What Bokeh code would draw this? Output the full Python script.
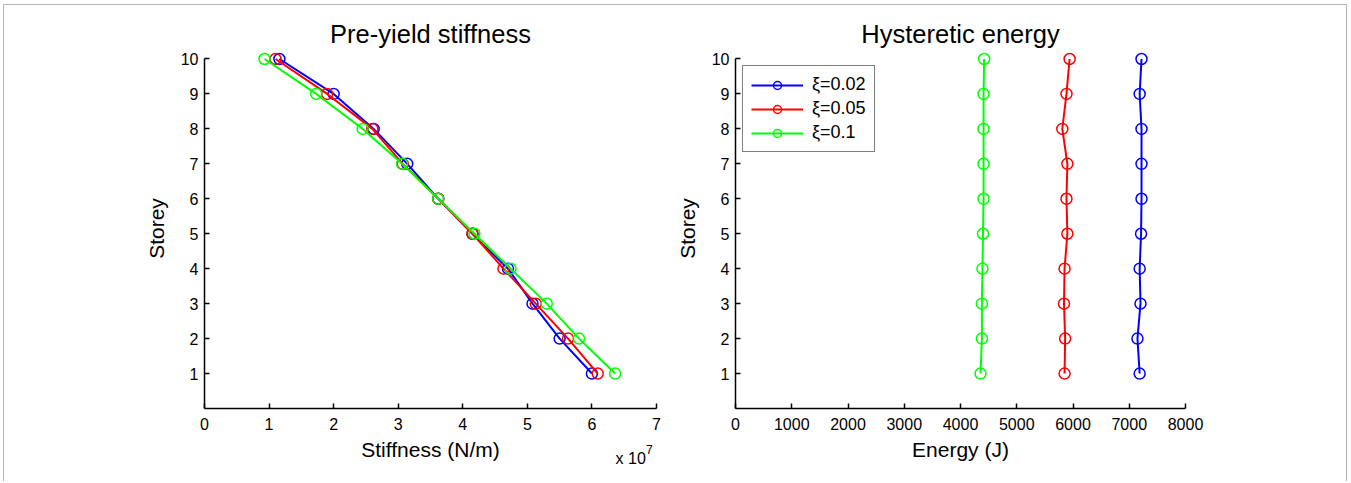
from bokeh.plotting import figure
from bokeh.layouts import row
from bokeh.models import Range1d, FixedTicker, LinearAxis, Legend, LegendItem
from bokeh.embed import file_html
from bokeh.resources import INLINE

storey = [1, 2, 3, 4, 5, 6, 7, 8, 9, 10]

# Stiffness (x 1e7 N/m)
stiff_002 = [6.00, 5.50, 5.08, 4.70, 4.15, 3.62, 3.14, 2.62, 2.00, 1.16]
stiff_005 = [6.09, 5.63, 5.13, 4.63, 4.15, 3.62, 3.07, 2.60, 1.90, 1.10]
stiff_010 = [6.36, 5.80, 5.30, 4.74, 4.18, 3.62, 3.06, 2.45, 1.73, 0.93]

# Hysteretic energy (J)
energy_002 = [7185, 7146, 7200, 7185, 7210, 7218, 7218, 7218, 7185, 7218]
energy_005 = [5850, 5860, 5840, 5850, 5900, 5884, 5900, 5810, 5884, 5940]
energy_010 = [4356, 4380, 4380, 4390, 4400, 4410, 4410, 4410, 4410, 4420]

labels = ["\u03be=0.02", "\u03be=0.05", "\u03be=0.1"]
colors = ["#0000ff", "#ff0000", "#00ff00"]
scale_text = "x 10"
scale_exp = "7"

FONT = "Liberation Sans"


def style(p, xticks, yticks, xbounds):
    p.xgrid.visible = False
    p.ygrid.visible = False
    p.outline_line_color = None
    p.title.text_font = FONT
    p.title.text_font_size = "25.5px"
    p.title.text_font_style = "normal"
    p.title.align = "center"
    p.title.text_color = "black"
    p.title.standoff = 2
    for ax in (p.xaxis[0], p.yaxis[0]):
        ax.axis_line_color = "black"
        ax.axis_line_width = 1.5
        ax.major_tick_line_color = "black"
        ax.major_tick_line_width = 1.5
        ax.major_tick_in = 5
        ax.major_tick_out = 0
        ax.minor_tick_line_color = None
        ax.major_label_text_font = FONT
        ax.major_label_text_font_size = "16px"
        ax.major_label_text_color = "black"
        ax.axis_label_text_font = FONT
        ax.axis_label_text_font_size = "21px"
        ax.axis_label_text_font_style = "normal"
        ax.axis_label_text_color = "black"
        ax.major_label_standoff = 6
    p.xaxis[0].major_label_standoff = 9
    p.xaxis[0].ticker = FixedTicker(ticks=xticks)
    p.yaxis[0].ticker = FixedTicker(ticks=yticks)
    p.yaxis[0].bounds = (0, 10)
    p.xaxis[0].bounds = xbounds
    p.xaxis[0].axis_label_standoff = 5
    p.yaxis[0].axis_label_standoff = 10


def text_axis(tick, text, size, standoff):
    ax = LinearAxis(ticker=FixedTicker(ticks=[tick]), major_label_overrides={tick: text},
                    axis_line_color=None, major_tick_line_color=None, minor_tick_line_color=None,
                    major_tick_in=0, major_tick_out=0, major_label_standoff=standoff,
                    major_label_text_font=FONT, major_label_text_font_size=size,
                    major_label_text_color="black")
    return ax


p1 = figure(width=662, height=476, output_backend="svg", toolbar_location=None,
            x_range=Range1d(0, 7), y_range=Range1d(0, 10.3),
            title="Pre-yield stiffness", x_axis_label="Stiffness (N/m)", y_axis_label="Storey",
            min_border_left=200, min_border_right=10, min_border_top=43, min_border_bottom=73)
style(p1, [0, 1, 2, 3, 4, 5, 6, 7], storey, (0, 7))
for xs, c in zip([stiff_002, stiff_005, stiff_010], colors):
    p1.line(xs, storey, line_color=c, line_width=2)
    p1.scatter(xs, storey, marker="circle", size=11, line_color=c, line_width=1.5, fill_color=None)

p1.add_layout(text_axis(6.60, scale_text, "16px", -14), "below")
p1.add_layout(text_axis(6.89, scale_exp, "12px", -25), "below")

p2 = figure(width=680, height=476, output_backend="svg", toolbar_location=None,
            x_range=Range1d(0, 8000), y_range=Range1d(0, 10.3),
            title="Hysteretic energy", x_axis_label="Energy (J)", y_axis_label="Storey",
            min_border_left=69, min_border_right=161, min_border_top=43, min_border_bottom=73)
style(p2, [0, 1000, 2000, 3000, 4000, 5000, 6000, 7000, 8000], storey, (0, 8000))
items = []
for xs, c, lab in zip([energy_002, energy_005, energy_010], colors, labels):
    r1 = p2.line(xs, storey, line_color=c, line_width=2)
    r2 = p2.scatter(xs, storey, marker="circle", size=11, line_color=c, line_width=1.5, fill_color=None)
    items.append(LegendItem(label=lab, renderers=[r1, r2]))

legend = Legend(items=items, location=(7, 256), border_line_color="black", border_line_width=1,
                label_text_font=FONT, label_text_font_size="18px", label_text_color="black",
                glyph_width=52, glyph_height=20, label_height=20, spacing=3, padding=8,
                label_standoff=9, margin=0, background_fill_color="white")
p2.add_layout(legend)

layout = row(p1, p2, styles={"border-style": "solid", "border-color": "#b4b4b4",
                             "border-width": "1px 1px 0 1px",
                             "margin-left": "3px", "margin-top": "4px"})

open("out.html", "w").write(file_html(layout, INLINE))
